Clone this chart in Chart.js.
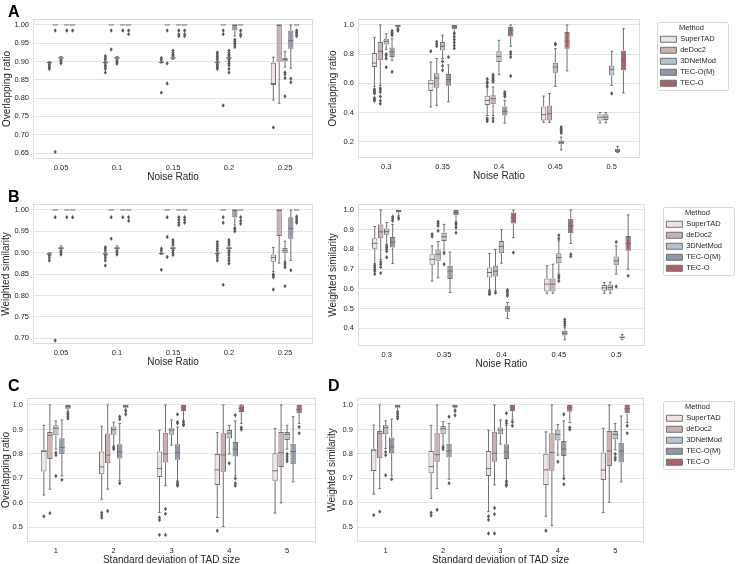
<!DOCTYPE html>
<html><head><meta charset="utf-8">
<script src="https://cdn.jsdelivr.net/npm/chart.js@4.4.0/dist/chart.umd.min.js"></script>
<style>
html,body{margin:0;padding:0;background:#fff;width:736px;height:564px;overflow:hidden;position:relative;}
canvas{position:absolute;}
</style></head><body>
<canvas id="cA1" width="326" height="185" style="left:0;top:0"></canvas>
<canvas id="cA2" width="410" height="185" style="left:326px;top:0"></canvas>
<canvas id="cB1" width="326" height="185" style="left:0;top:185px"></canvas>
<canvas id="cB2" width="410" height="185" style="left:326px;top:185px"></canvas>
<canvas id="cC" width="326" height="200" style="left:0;top:370px"></canvas>
<canvas id="cD" width="410" height="200" style="left:326px;top:370px"></canvas>
<script>
// ---------- categories / labels ----------
const methods = ['SuperTAD', 'deDoc2', '3DNetMod', 'TEC-O(M)', 'TEC-O'];
const methodColors = ['#efe4e3', '#cbb0b2', '#b5c4d0', '#9098a6', '#a7636a'];
const noiseLow = ['0.05', '0.1', '0.15', '0.2', '0.25'];
const noiseHigh = ['0.3', '0.35', '0.4', '0.45', '0.5'];
const tadSd = ['1', '2', '3', '4', '5'];
const yTicksA1 = [0.65, 0.70, 0.75, 0.80, 0.85, 0.90, 0.95, 1.00];
const yTicksA2 = [0.2, 0.4, 0.6, 0.8, 1.0];
const yTicksB1 = [0.70, 0.75, 0.80, 0.85, 0.90, 0.95, 1.00];
const yTicksB2 = [0.4, 0.5, 0.6, 0.7, 0.8, 0.9, 1.0];
const yTicksCD = [0.5, 0.6, 0.7, 0.8, 0.9, 1.0];

// ---------- box statistics: [method][category] = [lowWhisker, q1, median, q3, highWhisker] ----------
// A (left): Overlapping ratio, noise 0.05-0.25
const A1_box = [
  [[0.895,0.896,0.897,0.899,0.900],[0.895,0.896,0.897,0.899,0.900],[0.896,0.897,0.898,0.899,0.900],[0.896,0.897,0.898,0.899,0.900],[0.795,0.836,0.840,0.897,0.912]],
  [[1,1,1,1,1],[1,1,1,1,1],[1,1,1,1,1],[1,1,1,1,1],[0.786,0.900,1.0,1.0,1.0]],
  [[0.906,0.908,0.910,0.912,0.914],[0.906,0.908,0.910,0.912,0.914],[0.906,0.908,0.910,0.912,0.914],[0.906,0.908,0.910,0.912,0.914],[0.885,0.900,0.905,0.910,0.928]],
  [[1,1,1,1,1],[1,1,1,1,1],[1,1,1,1,1],[0.970,0.985,1.0,1.0,1.0],[0.882,0.935,0.957,0.985,1.0]],
  [[1,1,1,1,1],[1,1,1,1,1],[1,1,1,1,1],[1,1,1,1,1],[1,1,1,1,1]]
];
const A1_out = [
  [[0.892,0.888,0.884,0.880],[0.915,0.910,0.905,0.890,0.885,0.880,0.870],[0.910,0.905,0.815],[0.925,0.920,0.915,0.910,0.905,0.892,0.888,0.884,0.880],[0.720]],
  [[0.985,0.653],[0.985,0.933],[0.985,0.895,0.840],[0.985,0.975,0.780],[]],
  [[0.903,0.899,0.895],[0.902,0.898,0.894],[0.930,0.925,0.920,0.917],[0.930,0.925,0.920,0.917,0.905,0.900,0.895,0.890,0.880,0.870],[0.870,0.865,0.855,0.805]],
  [[0.985],[0.985],[0.985,0.975,0.970],[0.960,0.955,0.950,0.945,0.940],[0.853,0.843]],
  [[0.985],[0.985,0.975],[0.985,0.975,0.970],[0.985,0.975,0.970],[0.985,0.980,0.975,0.970]]
];
// A (right): Overlapping ratio, noise 0.3-0.5
const A2_box = [
  [[0.580,0.712,0.739,0.808,0.913],[0.438,0.547,0.598,0.625,0.746],[0.380,0.451,0.483,0.515,0.575],[0.333,0.346,0.385,0.442,0.513],[0.328,0.346,0.367,0.387,0.400]],
  [[0.586,0.758,0.820,0.883,1.0],[0.450,0.570,0.636,0.670,0.770],[0.380,0.456,0.495,0.518,0.575],[0.333,0.346,0.392,0.449,0.530],[0.330,0.348,0.368,0.388,0.400]],
  [[0.833,0.867,0.888,0.906,0.940],[0.770,0.826,0.854,0.883,0.930],[0.660,0.746,0.785,0.820,0.895],[0.580,0.673,0.712,0.742,0.838],[0.586,0.653,0.696,0.723,0.820]],
  [[0.758,0.780,0.815,0.845,0.906],[0.474,0.584,0.628,0.664,0.726],[0.328,0.380,0.408,0.442,0.483],[0.145,0.182,0.195,0.209,0.232],[0.125,0.129,0.140,0.152,0.168]],
  [[0.980,0.985,0.995,1.0,1.0],[0.950,0.970,0.990,1.0,1.0],[0.854,0.922,0.963,0.986,1.0],[0.685,0.838,0.888,0.952,1.0],[0.534,0.689,0.762,0.826,0.975]]
];
const A2_out = [
  [[0.56,0.55,0.54,0.53,0.50,0.49,0.48],[0.82],[0.63,0.61,0.60,0.58,0.36,0.35,0.34],[],[]],
  [[0.567,0.555,0.54,0.51,0.48,0.46],[0.886,0.87,0.855],[0.66,0.65,0.64,0.63,0.62,0.61,0.36,0.34],[],[]],
  [[0.80,0.79,0.77,0.71],[0.75,0.72,0.69],[],[0.872,0.866],[0.53]],
  [[0.96,0.95,0.94,0.93,0.68],[0.78],[0.54,0.53,0.52,0.51],[0.30,0.29,0.28,0.27,0.26],[]],
  [[0.97,0.96],[0.94,0.92,0.90,0.88,0.86,0.84],[0.815,0.80,0.78,0.65],[],[]]
];
// B (left): Weighted similarity, noise 0.05-0.25
const B1_box = [
  [[0.895,0.896,0.897,0.899,0.900],[0.895,0.896,0.897,0.899,0.900],[0.896,0.897,0.898,0.899,0.900],[0.896,0.897,0.898,0.899,0.900],[0.856,0.879,0.889,0.896,0.912]],
  [[1,1,1,1,1],[1,1,1,1,1],[1,1,1,1,1],[1,1,1,1,1],[0.876,0.939,1.0,1.0,1.0]],
  [[0.906,0.908,0.911,0.913,0.916],[0.906,0.908,0.911,0.913,0.916],[0.906,0.908,0.911,0.913,0.916],[0.906,0.908,0.911,0.913,0.916],[0.880,0.899,0.905,0.911,0.927]],
  [[1,1,1,1,1],[1,1,1,1,1],[1,1,1,1,1],[0.965,0.983,1.0,1.0,1.0],[0.882,0.933,0.957,0.983,1.0]],
  [[1,1,1,1,1],[1,1,1,1,1],[1,1,1,1,1],[1,1,1,1,1],[1,1,1,1,1]]
];
const B1_out = [
  [[0.893,0.888,0.882],[0.913,0.910,0.905,0.893,0.888,0.882,0.870],[0.910,0.905,0.860],[0.925,0.920,0.915,0.910,0.905,0.893,0.888,0.882],[0.850,0.847,0.843,0.814]],
  [[0.983,0.695],[0.983,0.933],[0.983,0.937,0.890],[0.983,0.970,0.825],[]],
  [[0.904,0.900,0.896],[0.904,0.900,0.896],[0.930,0.925,0.920,0.905,0.900,0.895],[0.930,0.925,0.920,0.904,0.900,0.895,0.888,0.882,0.875],[0.876,0.872,0.866,0.822]],
  [[0.983],[0.983],[0.983,0.977,0.970,0.965],[0.958,0.955,0.950],[0.859]],
  [[0.983],[0.983,0.975],[0.983,0.977,0.970],[0.983,0.975,0.968],[0.985,0.980,0.975,0.970]]
];
// B (right): Weighted similarity, noise 0.3-0.5
const B2_box = [
  [[0.728,0.804,0.831,0.857,0.916],[0.640,0.722,0.750,0.776,0.818],[0.595,0.658,0.683,0.708,0.780],[0.578,0.587,0.624,0.653,0.717],[0.578,0.590,0.605,0.620,0.632]],
  [[0.750,0.857,0.889,0.927,1.0],[0.656,0.742,0.776,0.800,0.840],[0.590,0.663,0.690,0.717,0.800],[0.578,0.587,0.624,0.653,0.725],[0.578,0.592,0.607,0.622,0.635]],
  [[0.826,0.874,0.890,0.906,0.936],[0.787,0.843,0.865,0.885,0.927],[0.730,0.780,0.815,0.843,0.900],[0.675,0.730,0.759,0.780,0.843],[0.675,0.720,0.742,0.764,0.818]],
  [[0.728,0.810,0.838,0.863,0.927],[0.582,0.650,0.690,0.717,0.787],[0.450,0.484,0.500,0.514,0.531],[0.342,0.363,0.374,0.388,0.405],[0.342,0.349,0.354,0.359,0.368]],
  [[0.970,0.987,0.993,1.0,1.0],[0.940,0.973,0.987,1.0,1.0],[0.860,0.932,0.961,0.987,1.0],[0.830,0.882,0.919,0.956,1.0],[0.700,0.793,0.831,0.868,0.975]]
];
const B2_out = [
  [[0.720,0.710,0.700,0.690,0.675],[0.877,0.865],[0.587,0.578,0.573],[],[]],
  [[0.737,0.725,0.710,0.680],[0.940,0.930,0.920,0.895],[0.580],[],[]],
  [[0.818,0.810,0.800,0.790,0.760],[0.780,0.725],[],[0.872,0.855,0.666,0.655,0.640],[0.838,0.612]],
  [[0.966,0.955,0.945],[],[0.594,0.585,0.575,0.565],[0.445,0.435,0.425,0.415],[]],
  [[0.960,0.955],[0.932,0.925,0.910,0.885],[0.784],[0.776,0.765],[0.666]]
];
// C: Overlapping ratio vs SD of TAD size
const C_box = [
  [[0.632,0.728,0.810,0.817,0.917],[0.615,0.717,0.747,0.810,0.914],[0.561,0.706,0.740,0.810,0.897],[0.540,0.673,0.735,0.800,0.887],[0.558,0.690,0.731,0.803,0.904]],
  [[0.656,0.779,0.876,0.890,1.0],[0.656,0.762,0.795,0.883,1.0],[0.670,0.765,0.800,0.887,1.0],[0.503,0.727,0.796,0.885,1.0],[0.600,0.747,0.806,0.890,1.0]],
  [[0.820,0.876,0.905,0.917,0.935],[0.833,0.878,0.900,0.912,0.930],[0.836,0.878,0.897,0.905,0.939],[0.800,0.863,0.885,0.898,0.917],[0.820,0.857,0.880,0.890,0.917]],
  [[0.710,0.799,0.826,0.864,0.939],[0.690,0.781,0.808,0.840,0.925],[0.690,0.776,0.806,0.840,0.910],[0.710,0.789,0.819,0.849,0.935],[0.686,0.758,0.810,0.842,0.952]],
  [[0.975,0.985,0.995,1.0,1.0],[0.982,0.989,0.995,1.0,1.0],[0.935,0.975,0.989,1.0,1.0],[0.925,0.971,0.986,0.999,1.0],[0.925,0.966,0.982,1.0,1.0]]
];
const C_out = [
  [[0.545],[0.560,0.550,0.540],[0.540,0.530,0.469],[0.486],[]],
  [[0.558],[0.567],[0.575,0.555,0.469],[],[]],
  [[0.805,0.795,0.710],[0.826,0.820],[],[0.762],[0.800,0.790,0.780,0.770]],
  [[0.694],[0.952,0.942,0.680],[0.962,0.930,0.925,0.683,0.675,0.670],[0.958,0.700,0.680,0.670],[]],
  [[0.967,0.960,0.952,0.945],[0.975,0.962],[0.930,0.920,0.917],[0.908,0.900],[0.910,0.885]]
];
// D: Weighted similarity vs SD of TAD size
const D_box = [
  [[0.636,0.730,0.815,0.819,0.918],[0.618,0.721,0.748,0.812,0.917],[0.564,0.710,0.740,0.812,0.897],[0.545,0.673,0.735,0.801,0.890],[0.561,0.693,0.734,0.806,0.905]],
  [[0.659,0.782,0.883,0.894,1.0],[0.659,0.768,0.797,0.885,1.0],[0.673,0.768,0.803,0.891,1.0],[0.507,0.731,0.806,0.885,1.0],[0.602,0.751,0.812,0.894,1.0]],
  [[0.822,0.880,0.907,0.917,0.935],[0.833,0.880,0.903,0.914,0.932],[0.840,0.880,0.897,0.908,0.939],[0.795,0.855,0.880,0.900,0.920],[0.817,0.860,0.880,0.894,0.925]],
  [[0.710,0.803,0.829,0.867,0.942],[0.697,0.785,0.812,0.842,0.925],[0.690,0.779,0.808,0.840,0.917],[0.710,0.792,0.820,0.853,0.935],[0.686,0.765,0.812,0.846,0.955]],
  [[0.975,0.989,0.995,1.0,1.0],[0.980,0.989,0.995,1.0,1.0],[0.939,0.975,0.989,1.0,1.0],[0.928,0.972,0.989,1.0,1.0],[0.928,0.966,0.985,1.0,1.0]]
];
const D_out = [
  [[0.550],[0.560,0.548],[0.545,0.531,0.475],[0.486],[]],
  [[0.564],[0.572],[0.579,0.554,0.475],[],[]],
  [[0.808,0.795,0.713],[0.826,0.820],[],[0.768],[0.800,0.785,0.776]],
  [[0.697],[0.952,0.680],[0.966,0.935,0.925,0.686,0.676,0.670],[0.962,0.700,0.676],[]],
  [[0.971,0.962,0.953,0.945],[0.975,0.958],[0.930,0.915],[0.908,0.900],[0.915,0.885]]
];

// ---------- styling ----------
const FONT = "'Liberation Sans', Arial, sans-serif";
const LINE = '#707070';
const FLIER = '#5b5b5b';
const TXT = '#262626';

const boxPlugin = {
  id: 'boxExtras',
  beforeDatasetsDraw(chart) {
    const {ctx, chartArea: a} = chart;
    ctx.save();
    ctx.strokeStyle = '#dcdcdc'; ctx.lineWidth = 1;
    ctx.strokeRect(Math.round(a.left) + 0.5, Math.round(a.top) + 0.5, Math.round(a.right - a.left) - 1, Math.round(a.bottom - a.top) - 1);
    ctx.restore();
  },
  afterDatasetsDraw(chart) {
    const ctx = chart.ctx, ys = chart.scales.y;
    const py = v => ys.getPixelForValue(v);
    ctx.save();
    chart.data.datasets.forEach((ds, k) => {
      const meta = chart.getDatasetMeta(k);
      meta.data.forEach((bar, i) => {
        const s = ds.stats[i];
        const x = bar.x, w = bar.width;
        ctx.strokeStyle = LINE; ctx.lineWidth = 1;
        ctx.beginPath();
        if (s[0] < s[1]) {
          ctx.moveTo(x, py(s[1])); ctx.lineTo(x, py(s[0]));
          ctx.moveTo(x - w / 4, py(s[0])); ctx.lineTo(x + w / 4, py(s[0]));
        }
        if (s[4] > s[3]) {
          ctx.moveTo(x, py(s[3])); ctx.lineTo(x, py(s[4]));
          ctx.moveTo(x - w / 4, py(s[4])); ctx.lineTo(x + w / 4, py(s[4]));
        }
        ctx.moveTo(x - w / 2, py(s[2])); ctx.lineTo(x + w / 2, py(s[2]));
        ctx.stroke();
        ctx.fillStyle = FLIER;
        (ds.outliers[i] || []).forEach(v => {
          const y = py(v);
          ctx.beginPath();
          ctx.moveTo(x, y - 2.2); ctx.lineTo(x + 1.6, y); ctx.lineTo(x, y + 2.2); ctx.lineTo(x - 1.6, y);
          ctx.closePath(); ctx.fill();
        });
      });
    });
    ctx.restore();
  }
};

const legendFrame = {
  id: 'legendFrame',
  afterLayout(chart, args, opts) {
    const lg = chart.legend;
    if (!lg || !lg.options.display || !opts.gap) return;
    lg.left += opts.gap; lg.right += opts.gap;
  },
  afterDraw(chart) {
    const lg = chart.legend;
    if (!lg || !lg.options.display || !lg.legendHitBoxes || !lg.legendHitBoxes.length) return;
    const hb = lg.legendHitBoxes;
    const last = hb[hb.length - 1];
    const right = Math.max(...hb.map(h => h.left + h.width)) + 12;
    const left = Math.round(lg.left) + 0.5, top = Math.round(lg.top + 3) + 0.5;
    const bottom = Math.round(last.top + last.height + 3) + 0.5;
    const ctx = chart.ctx;
    ctx.save();
    ctx.strokeStyle = '#d6d6d6'; ctx.lineWidth = 1;
    ctx.beginPath();
    ctx.roundRect(left, top, Math.round(right - left), bottom - top, 2);
    ctx.stroke();
    ctx.restore();
  }
};

const panelLetter = {
  id: 'panelLetter',
  afterDraw(chart, args, opts) {
    if (!opts.text) return;
    const ctx = chart.ctx;
    ctx.save();
    ctx.font = 'bold 16px ' + FONT;
    ctx.fillStyle = '#000';
    ctx.textBaseline = 'alphabetic';
    ctx.fillText(opts.text, opts.x, opts.y);
    ctx.restore();
  }
};

function makeChart(p) {
  const datasets = methods.map((m, k) => ({
    label: m,
    data: p.box[k].map(s => [s[1], s[3]]),
    stats: p.box[k],
    outliers: p.out[k],
    backgroundColor: methodColors[k],
    borderColor: LINE,
    borderWidth: 1,
    borderSkipped: false,
    categoryPercentage: 0.52,
    barPercentage: 0.9
  }));
  const legendOpts = p.legend ? {
    display: true, position: 'right', align: 'start', maxWidth: 70,
    labels: { boxWidth: 16, boxHeight: 6, padding: 3.5, color: TXT, font: { size: 7.5, family: FONT } },
    title: { display: true, text: 'Method', color: TXT, font: { size: 7.5, family: FONT, lineHeight: 1 }, padding: { top: 5.5, bottom: 0 } }
  } : { display: false };
  return new Chart(document.getElementById(p.id), {
    type: 'bar',
    data: { labels: p.labels, datasets },
    plugins: [boxPlugin, legendFrame, panelLetter],
    options: {
      responsive: false, animation: false, devicePixelRatio: 1, events: [],
      layout: { padding: p.pad },
      plugins: {
        legend: legendOpts,
        tooltip: { enabled: false },
        legendFrame: { gap: p.gap || 0 },
        panelLetter: p.letter || {}
      },
      scales: {
        x: {
          type: 'category',
          grid: { display: false, drawTicks: false, tickLength: 0 }, border: { display: false },
          ticks: { color: TXT, font: { size: 7.5, family: FONT }, padding: 4, maxRotation: 0, autoSkip: false },
          title: { display: true, text: p.xTitle, color: TXT, font: { size: 10, family: FONT }, padding: { top: 0, bottom: p.xTitlePad } },
          afterFit: s => { s.height = p.xH; }
        },
        y: {
          min: p.yMin, max: p.yMax,
          grid: { color: '#e4e4e4', lineWidth: 1, drawTicks: false },
          border: { display: false },
          afterBuildTicks: s => { s.ticks = p.yTicks.map(v => ({ value: v })); },
          ticks: { color: TXT, font: { size: 7.5, family: FONT }, padding: 4, callback: v => Number(v).toFixed(p.dec) },
          title: { display: true, text: p.yTitle, color: TXT, font: { size: 10, family: FONT }, padding: { top: p.yTitlePad, bottom: 0 } },
          afterFit: s => { s.width = p.yW; }
        }
      }
    }
  });
}

makeChart({ id: 'cA1', labels: noiseLow, box: A1_box, out: A1_out, yMin: 0.6336, yMax: 1.0164, yTicks: yTicksA1, dec: 2,
  yTitle: 'Overlapping ratio', xTitle: 'Noise Ratio', pad: { left: 0, right: 13, top: 19, bottom: 0 }, yW: 33, xH: 26,
  yTitlePad: 1, xTitlePad: 2, letter: { text: 'A', x: 8, y: 17 } });
makeChart({ id: 'cA2', labels: noiseHigh, box: A2_box, out: A2_out, yMin: 0.0883, yMax: 1.0411, yTicks: yTicksA2, dec: 1,
  yTitle: 'Overlapping ratio', xTitle: 'Noise Ratio', pad: { left: 0, right: 27, top: 19, bottom: 0 }, yW: 32, xH: 27,
  yTitlePad: 1, xTitlePad: 2.3, legend: true, gap: 17 });
makeChart({ id: 'cB1', labels: noiseLow, box: B1_box, out: B1_out, yMin: 0.6867, yMax: 1.014, yTicks: yTicksB1, dec: 2,
  yTitle: 'Weighted similarity', xTitle: 'Noise Ratio', pad: { left: 0, right: 13, top: 19, bottom: 0 }, yW: 33, xH: 26,
  yTitlePad: 0, xTitlePad: 1.7, letter: { text: 'B', x: 8, y: 17 } });
makeChart({ id: 'cB2', labels: noiseHigh, box: B2_box, out: B2_out, yMin: 0.3102, yMax: 1.0304, yTicks: yTicksB2, dec: 1,
  yTitle: 'Weighted similarity', xTitle: 'Noise Ratio', pad: { left: 0, right: 22, top: 19, bottom: 0 }, yW: 32, xH: 24,
  yTitlePad: 1, xTitlePad: 0, legend: true, gap: 18 });
makeChart({ id: 'cC', labels: tadSd, box: C_box, out: C_out, yMin: 0.44, yMax: 1.0286, yTicks: yTicksCD, dec: 1,
  yTitle: 'Overlapping ratio', xTitle: 'Standard deviation of TAD size', pad: { left: 0, right: 10, top: 28, bottom: 0 }, yW: 27, xH: 28,
  yTitlePad: 0, xTitlePad: 4, letter: { text: 'C', x: 8, y: 21 } });
makeChart({ id: 'cD', labels: tadSd, box: D_box, out: D_out, yMin: 0.44, yMax: 1.0286, yTicks: yTicksCD, dec: 1,
  yTitle: 'Weighted similarity', xTitle: 'Standard deviation of TAD size', pad: { left: 0, right: 23, top: 28, bottom: 0 }, yW: 31, xH: 28,
  yTitlePad: 0, xTitlePad: 4, legend: true, gap: 19, letter: { text: 'D', x: 2, y: 21 } });
</script>
</body></html>
